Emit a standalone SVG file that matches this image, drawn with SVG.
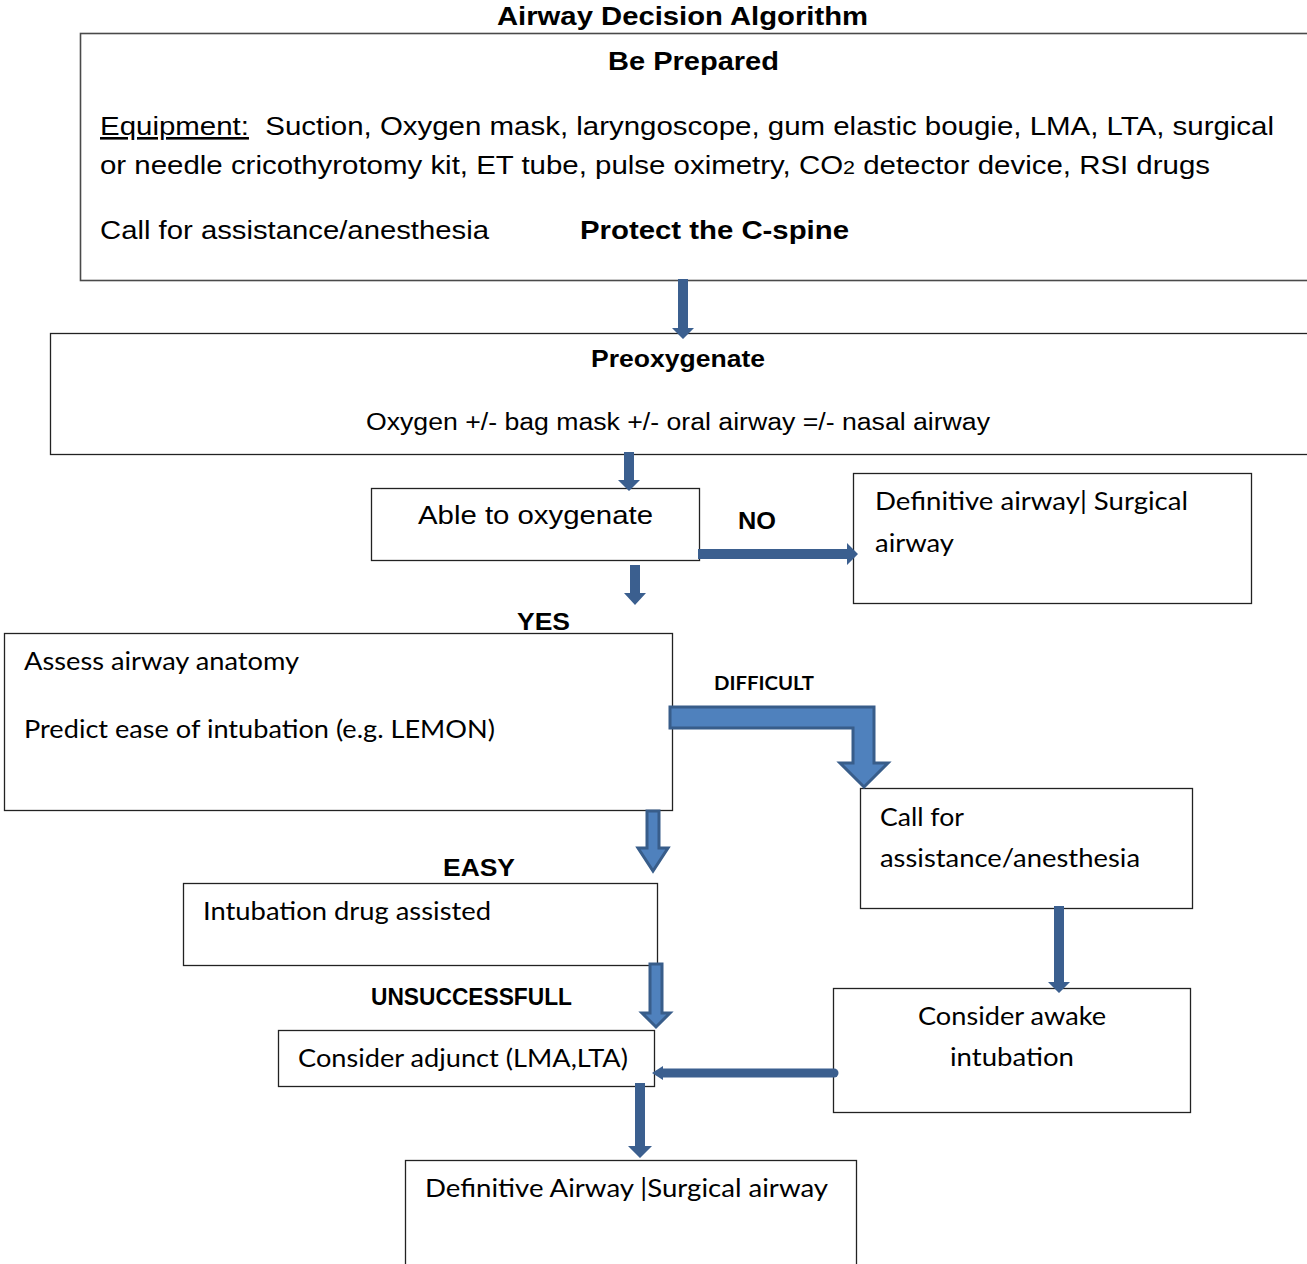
<svg xmlns="http://www.w3.org/2000/svg" width="1307" height="1264" viewBox="0 0 1307 1264">
<style>
.box{fill:#ffffff;stroke:#222222;stroke-width:1.3}
.boxg{fill:#ffffff;stroke:#4a4a4a;stroke-width:1.6}
.a{font-family:"Liberation Sans",Arial,sans-serif;fill:#000000}
.c{font-family:Lato,"Open Sans","Liberation Sans",sans-serif;fill:#000000}
.b{font-weight:bold}
.arr{fill:#3b5f8f}
.arro{fill:#4f81bd;stroke:#385d8a;stroke-width:3;stroke-linejoin:miter}
</style>
<rect width="1307" height="1264" fill="#ffffff"/>
<text class="a b" x="497" y="25" font-size="25.5" textLength="371" lengthAdjust="spacingAndGlyphs">Airway Decision Algorithm</text>

<g id="node-prepare">
<rect class="boxg" x="80.5" y="33.5" width="1240" height="247"/>
<text class="a b" x="608" y="70" font-size="25.5" textLength="171" lengthAdjust="spacingAndGlyphs">Be Prepared</text>
<text class="a" x="100" y="135" font-size="26" textLength="1174" lengthAdjust="spacingAndGlyphs"><tspan text-decoration="underline">Equipment:</tspan>&#160; Suction, Oxygen mask, laryngoscope, gum elastic bougie, LMA, LTA, surgical</text>
<text class="a" x="100" y="174" font-size="26" textLength="1110" lengthAdjust="spacingAndGlyphs">or needle cricothyrotomy kit, ET tube, pulse oximetry, CO<tspan font-size="19">2</tspan> detector device, RSI drugs</text>
<text class="a" x="100" y="239" font-size="26" textLength="389" lengthAdjust="spacingAndGlyphs">Call for assistance/anesthesia</text>
<text class="a b" x="580" y="239" font-size="26" textLength="269" lengthAdjust="spacingAndGlyphs">Protect the C-spine</text>
</g>

<g id="node-preoxygenate">
<rect class="box" x="50.5" y="333.5" width="1270" height="121"/>
<text class="a b" x="591" y="367" font-size="23" textLength="174" lengthAdjust="spacingAndGlyphs">Preoxygenate</text>
<text class="a" x="366" y="430" font-size="23" textLength="624" lengthAdjust="spacingAndGlyphs">Oxygen +/- bag mask +/- oral airway =/- nasal airway</text>
</g>

<g id="node-able">
<rect class="box" x="371.5" y="488.5" width="328" height="72"/>
<text class="a" x="418" y="524" font-size="26" textLength="235" lengthAdjust="spacingAndGlyphs">Able to oxygenate</text>
</g>

<g id="node-definitive1">
<rect class="box" x="853.5" y="473.5" width="398" height="130"/>
<text class="c" x="875" y="510" font-size="25" textLength="313" lengthAdjust="spacingAndGlyphs">Definitive airway| Surgical</text>
<text class="c" x="875" y="552" font-size="25" textLength="79" lengthAdjust="spacingAndGlyphs">airway</text>
</g>

<g id="node-assess">
<rect class="box" x="4.5" y="633.5" width="668" height="177"/>
<text class="c" x="24" y="670" font-size="25" textLength="275" lengthAdjust="spacingAndGlyphs">Assess airway anatomy</text>
<text class="c" x="24" y="738" font-size="25" textLength="471" lengthAdjust="spacingAndGlyphs">Predict ease of intubation (e.g. LEMON)</text>
</g>

<g id="node-call">
<rect class="box" x="860.5" y="788.5" width="332" height="120"/>
<text class="c" x="880" y="826" font-size="25" textLength="84" lengthAdjust="spacingAndGlyphs">Call for</text>
<text class="c" x="880" y="867" font-size="25" textLength="260" lengthAdjust="spacingAndGlyphs">assistance/anesthesia</text>
</g>

<g id="node-drug">
<rect class="box" x="183.5" y="883.5" width="474" height="82"/>
<text class="c" x="203" y="920" font-size="25" textLength="288" lengthAdjust="spacingAndGlyphs">Intubation drug assisted</text>
</g>

<g id="node-awake">
<rect class="box" x="833.5" y="988.5" width="357" height="124"/>
<text class="c" x="918" y="1025" font-size="25" textLength="188" lengthAdjust="spacingAndGlyphs">Consider awake</text>
<text class="c" x="950" y="1066" font-size="25" textLength="124" lengthAdjust="spacingAndGlyphs">intubation</text>
</g>

<g id="node-adjunct">
<rect class="box" x="278.5" y="1030.5" width="376" height="56"/>
<text class="c" x="298" y="1067" font-size="25" textLength="330" lengthAdjust="spacingAndGlyphs">Consider adjunct (LMA,LTA)</text>
</g>

<g id="node-definitive2">
<rect class="box" x="405.5" y="1160.5" width="451" height="110"/>
<text class="c" x="425" y="1197" font-size="25" textLength="403" lengthAdjust="spacingAndGlyphs">Definitive Airway |Surgical airway</text>
</g>

<g id="connectors">
<polygon class="arr" points="678,279 688,279 688,328 694,328 683,339 672,328 678,328"/>
<polygon class="arr" points="624,452 634,452 634,480 640,480 629,491 618,480 624,480"/>
<polygon class="arr" points="698,549 847,549 847,543 858,554 847,565 847,559 698,559"/>
<text class="a b" x="738" y="529" font-size="23" textLength="38" lengthAdjust="spacingAndGlyphs">NO</text>
<polygon class="arr" points="630,565 640,565 640,593 646,593 635,605 624,593 630,593"/>
<text class="a b" x="517" y="630" font-size="24" textLength="53" lengthAdjust="spacingAndGlyphs">YES</text>
<polygon class="arro" points="670,707 874,707 874,763 888,763 864,787 840,763 853,763 853,728 670,728"/>
<text class="c b" x="714" y="690" font-size="18.5" textLength="100" lengthAdjust="spacingAndGlyphs">DIFFICULT</text>
<polygon class="arro" points="647,811 659,811 659,848 668,848 653,871 638,848 647,848" stroke-width="2.5"/>
<text class="a b" x="443" y="876" font-size="24" textLength="72" lengthAdjust="spacingAndGlyphs">EASY</text>
<polygon class="arro" points="650,964 662,964 662,1013 670,1013 656,1027 642,1013 650,1013" stroke-width="2.5"/>
<text class="a b" x="371" y="1005" font-size="23" textLength="201" lengthAdjust="spacingAndGlyphs">UNSUCCESSFULL</text>
<polygon class="arr" points="1054,906 1064,906 1064,982 1070,982 1059,993 1048,982 1054,982"/>
<line x1="834" y1="1073" x2="662" y2="1073" stroke="#3b5f8f" stroke-width="9" stroke-linecap="round"/>
<polygon class="arr" points="652,1073 663,1066 663,1080"/>
<polygon class="arr" points="635,1083 645,1083 645,1146 652,1146 640,1158 628,1146 635,1146"/>
</g>
</svg>
